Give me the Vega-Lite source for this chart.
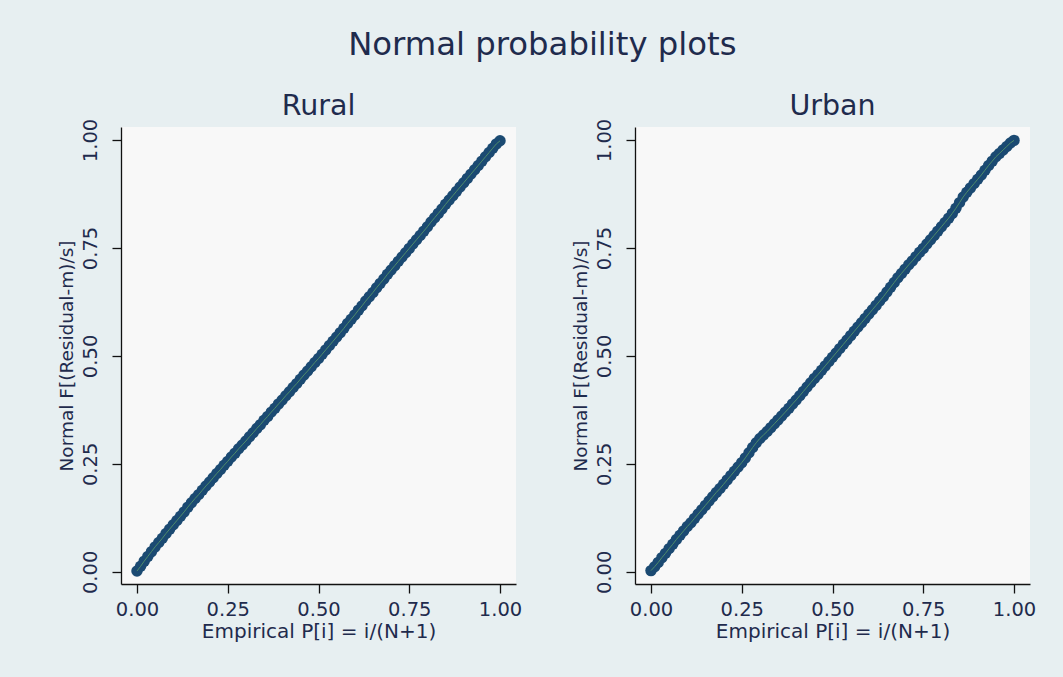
{
  "$schema": "https://vega.github.io/schema/vega-lite/v6.json",
  "background": "#e7eff1",
  "padding": {"left": 56, "top": 29, "right": 33, "bottom": 37},
  "title": {"text": "Normal probability plots", "fontSize": 32.3, "anchor": "middle", "frame": "bounds", "dx": -4, "offset": 30},
  "datasets": {
    "rural": [
      {"x":0.00,"y":0.002},{"x":0.01,"y":0.013},{"x":0.02,"y":0.025},{"x":0.03,"y":0.036},{"x":0.04,"y":0.047},{"x":0.05,"y":0.058},{"x":0.06,"y":0.068},{"x":0.07,"y":0.078},{"x":0.08,"y":0.089},{"x":0.09,"y":0.099},
      {"x":0.10,"y":0.109},{"x":0.11,"y":0.119},{"x":0.12,"y":0.129},{"x":0.13,"y":0.139},{"x":0.14,"y":0.150},{"x":0.15,"y":0.160},{"x":0.16,"y":0.170},{"x":0.17,"y":0.179},{"x":0.18,"y":0.189},{"x":0.19,"y":0.199},
      {"x":0.20,"y":0.208},{"x":0.21,"y":0.218},{"x":0.22,"y":0.228},{"x":0.23,"y":0.237},{"x":0.24,"y":0.247},{"x":0.25,"y":0.256},{"x":0.26,"y":0.266},{"x":0.27,"y":0.275},{"x":0.28,"y":0.285},{"x":0.29,"y":0.294},
      {"x":0.30,"y":0.303},{"x":0.31,"y":0.313},{"x":0.32,"y":0.322},{"x":0.33,"y":0.332},{"x":0.34,"y":0.341},{"x":0.35,"y":0.351},{"x":0.36,"y":0.360},{"x":0.37,"y":0.370},{"x":0.38,"y":0.379},{"x":0.39,"y":0.389},
      {"x":0.40,"y":0.398},{"x":0.41,"y":0.408},{"x":0.42,"y":0.417},{"x":0.43,"y":0.427},{"x":0.44,"y":0.436},{"x":0.45,"y":0.446},{"x":0.46,"y":0.456},{"x":0.47,"y":0.465},{"x":0.48,"y":0.475},{"x":0.49,"y":0.485},
      {"x":0.50,"y":0.494},{"x":0.51,"y":0.504},{"x":0.52,"y":0.514},{"x":0.53,"y":0.524},{"x":0.54,"y":0.534},{"x":0.55,"y":0.544},{"x":0.56,"y":0.554},{"x":0.57,"y":0.564},{"x":0.58,"y":0.575},{"x":0.59,"y":0.585},
      {"x":0.60,"y":0.595},{"x":0.61,"y":0.606},{"x":0.62,"y":0.616},{"x":0.63,"y":0.627},{"x":0.64,"y":0.637},{"x":0.65,"y":0.647},{"x":0.66,"y":0.658},{"x":0.67,"y":0.668},{"x":0.68,"y":0.678},{"x":0.69,"y":0.689},
      {"x":0.70,"y":0.699},{"x":0.71,"y":0.709},{"x":0.72,"y":0.719},{"x":0.73,"y":0.729},{"x":0.74,"y":0.739},{"x":0.75,"y":0.749},{"x":0.76,"y":0.759},{"x":0.77,"y":0.769},{"x":0.78,"y":0.779},{"x":0.79,"y":0.789},
      {"x":0.80,"y":0.799},{"x":0.81,"y":0.810},{"x":0.82,"y":0.820},{"x":0.83,"y":0.830},{"x":0.84,"y":0.840},{"x":0.85,"y":0.851},{"x":0.86,"y":0.861},{"x":0.87,"y":0.871},{"x":0.88,"y":0.881},{"x":0.89,"y":0.891},
      {"x":0.90,"y":0.901},{"x":0.91,"y":0.911},{"x":0.92,"y":0.921},{"x":0.93,"y":0.931},{"x":0.94,"y":0.941},{"x":0.95,"y":0.951},{"x":0.96,"y":0.961},{"x":0.97,"y":0.971},{"x":0.98,"y":0.981},{"x":0.99,"y":0.991},
      {"x":1.00,"y":0.998}
    ],
    "urban": [
      {"x":0.00,"y":0.003},{"x":0.01,"y":0.012},{"x":0.02,"y":0.022},{"x":0.03,"y":0.033},{"x":0.04,"y":0.043},{"x":0.05,"y":0.054},{"x":0.06,"y":0.064},{"x":0.07,"y":0.075},{"x":0.08,"y":0.085},{"x":0.09,"y":0.095},
      {"x":0.10,"y":0.105},{"x":0.11,"y":0.114},{"x":0.12,"y":0.124},{"x":0.13,"y":0.134},{"x":0.14,"y":0.144},{"x":0.15,"y":0.154},{"x":0.16,"y":0.164},{"x":0.17,"y":0.174},{"x":0.18,"y":0.184},{"x":0.19,"y":0.193},
      {"x":0.20,"y":0.203},{"x":0.21,"y":0.213},{"x":0.22,"y":0.223},{"x":0.23,"y":0.233},{"x":0.24,"y":0.243},{"x":0.25,"y":0.253},{"x":0.26,"y":0.264},{"x":0.27,"y":0.276},{"x":0.28,"y":0.288},{"x":0.29,"y":0.299},
      {"x":0.30,"y":0.309},{"x":0.31,"y":0.317},{"x":0.32,"y":0.325},{"x":0.33,"y":0.334},{"x":0.34,"y":0.343},{"x":0.35,"y":0.352},{"x":0.36,"y":0.361},{"x":0.37,"y":0.370},{"x":0.38,"y":0.379},{"x":0.39,"y":0.389},
      {"x":0.40,"y":0.398},{"x":0.41,"y":0.408},{"x":0.42,"y":0.418},{"x":0.43,"y":0.428},{"x":0.44,"y":0.438},{"x":0.45,"y":0.448},{"x":0.46,"y":0.457},{"x":0.47,"y":0.467},{"x":0.48,"y":0.477},{"x":0.49,"y":0.487},
      {"x":0.50,"y":0.497},{"x":0.51,"y":0.507},{"x":0.52,"y":0.517},{"x":0.53,"y":0.527},{"x":0.54,"y":0.537},{"x":0.55,"y":0.547},{"x":0.56,"y":0.557},{"x":0.57,"y":0.567},{"x":0.58,"y":0.577},{"x":0.59,"y":0.587},
      {"x":0.60,"y":0.597},{"x":0.61,"y":0.607},{"x":0.62,"y":0.617},{"x":0.63,"y":0.627},{"x":0.64,"y":0.637},{"x":0.65,"y":0.648},{"x":0.66,"y":0.659},{"x":0.67,"y":0.670},{"x":0.68,"y":0.681},{"x":0.69,"y":0.691},
      {"x":0.70,"y":0.701},{"x":0.71,"y":0.711},{"x":0.72,"y":0.720},{"x":0.73,"y":0.730},{"x":0.74,"y":0.740},{"x":0.75,"y":0.749},{"x":0.76,"y":0.759},{"x":0.77,"y":0.769},{"x":0.78,"y":0.779},{"x":0.79,"y":0.789},
      {"x":0.80,"y":0.799},{"x":0.81,"y":0.809},{"x":0.82,"y":0.819},{"x":0.83,"y":0.830},{"x":0.84,"y":0.842},{"x":0.85,"y":0.855},{"x":0.86,"y":0.868},{"x":0.87,"y":0.879},{"x":0.88,"y":0.889},{"x":0.89,"y":0.899},
      {"x":0.90,"y":0.909},{"x":0.91,"y":0.919},{"x":0.92,"y":0.930},{"x":0.93,"y":0.941},{"x":0.94,"y":0.951},{"x":0.95,"y":0.961},{"x":0.96,"y":0.969},{"x":0.97,"y":0.977},{"x":0.98,"y":0.985},{"x":0.99,"y":0.993},
      {"x":1.00,"y":0.999}
    ]
  },
  "bounds": "flush",
  "spacing": 119,
  "hconcat": [
    {
      "width": 395, "height": 457,
      "title": "Rural",
      "data": {"name": "rural"},
      "encoding": {
        "x": {"field": "x", "type": "quantitative", "scale": {"domain": [-0.044, 1.044], "nice": false, "zero": false}, "axis": {"values": [0, 0.25, 0.5, 0.75, 1], "format": ".2f", "title": "Empirical P[i] = i/(N+1)"}},
        "y": {"field": "y", "type": "quantitative", "scale": {"domain": [-0.028, 1.030], "nice": false, "zero": false}, "axis": {"values": [0, 0.25, 0.5, 0.75, 1], "format": ".2f", "title": "Normal F[(Residual-m)/s]"}}
      },
      "layer": [
        {"mark": {"type": "point", "filled": true, "size": 130, "color": "#1b4a72", "opacity": 1, "strokeWidth": 0}},
        {"mark": {"type": "line", "color": "#4f8c6a", "strokeWidth": 1}}
      ]
    },
    {
      "width": 395, "height": 457,
      "title": "Urban",
      "data": {"name": "urban"},
      "encoding": {
        "x": {"field": "x", "type": "quantitative", "scale": {"domain": [-0.044, 1.044], "nice": false, "zero": false}, "axis": {"values": [0, 0.25, 0.5, 0.75, 1], "format": ".2f", "title": "Empirical P[i] = i/(N+1)"}},
        "y": {"field": "y", "type": "quantitative", "scale": {"domain": [-0.028, 1.030], "nice": false, "zero": false}, "axis": {"values": [0, 0.25, 0.5, 0.75, 1], "format": ".2f", "title": "Normal F[(Residual-m)/s]"}}
      },
      "layer": [
        {"mark": {"type": "point", "filled": true, "size": 130, "color": "#1b4a72", "opacity": 1, "strokeWidth": 0}},
        {"mark": {"type": "line", "color": "#4f8c6a", "strokeWidth": 1}}
      ]
    }
  ],
  "config": {
    "font": "DejaVu Sans",
    "view": {"fill": "#f8f8f8", "stroke": null},
    "axis": {"grid": false, "domainColor": "#111111", "tickColor": "#111111", "tickSize": 9, "domainWidth": 1.3, "tickWidth": 1.3, "labelFont": "DejaVu Sans", "labelFontSize": 19.5, "labelColor": "#1f2b4d", "labelFlush": false, "labelOverlap": false, "titleFont": "DejaVu Sans", "titleFontWeight": "normal", "titleColor": "#1f2b4d"},
    "axisX": {"labelPadding": 7, "titlePadding": 3, "titleFontSize": 20},
    "axisY": {"labelAngle": 270, "labelAlign": "center", "labelBaseline": "bottom", "labelPadding": 12, "titlePadding": 4, "titleFontSize": 18.5},
    "title": {"font": "DejaVu Sans", "fontWeight": "normal", "color": "#1f2b4d", "fontSize": 28.5, "baseline": "alphabetic", "offset": -2}
  }
}
